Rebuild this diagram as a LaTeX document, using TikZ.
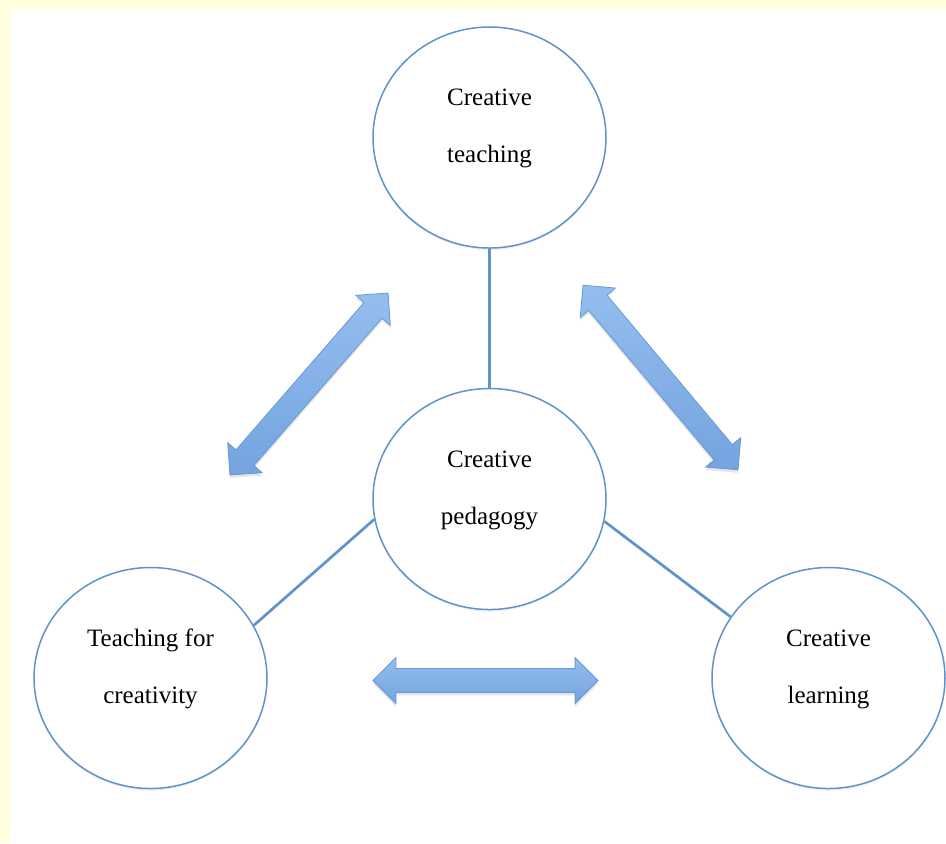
\documentclass[tikz,border=0pt]{standalone}
\usepackage{fontspec}
\setmainfont{Liberation Serif}
\usetikzlibrary{positioning,shapes.geometric,shapes.arrows,shadows}
\definecolor{pageyellow}{RGB}{255,255,222}
\definecolor{ringblue}{RGB}{96,146,204}
\definecolor{arrowtop}{RGB}{148,190,238}
\definecolor{arrowbot}{RGB}{116,163,224}
\definecolor{arrowrim}{RGB}{104,153,214}
\tikzset{%
	circ/.style   = {draw=ringblue, fill=white, line width=0.75pt, ellipse, minimum width=116.5pt, minimum height=110.5pt, inner sep=0pt, align=center, text=black, font=\fontsize{12.5}{28.5}\selectfont, execute at end node={\rule[-11.7pt]{0pt}{11.7pt}}, drop shadow={shadow xshift=0pt, shadow yshift=-1pt, opacity=0.12}}, % topic circle
	link/.style   = {draw=ringblue, line width=1.35pt}, % plain connector
	twoway/.style = {double arrow, draw=arrowrim, line width=0.4pt, top color=arrowtop, bottom color=arrowbot, minimum width=22.5pt, inner xsep=0pt, inner ysep=5.75pt, double arrow head extend=5.5pt, drop shadow={shadow xshift=0pt, shadow yshift=-1.5pt, opacity=0.2}}, % block arrow
}

\begin{document}
\begin{tikzpicture}[x=0.5pt, y=-0.5pt, node distance=69.5pt]
	% page
	\fill[pageyellow] (0,0) rectangle (946,843);
	\fill[white] (10,9) rectangle (946,843);
	\useasboundingbox (0,0) rectangle (946,843);
	% circles
	\node[circ] (ped) at (489.5,499) {Creative\\pedagogy};
	\node[circ, above=of ped] (teach) {Creative\\teaching};
	\node[circ, below left=89.5pt and 169.5pt of ped.center, anchor=center] (tfc) {Teaching for\\creativity};
	\node[circ, below right=89.5pt and 169.5pt of ped.center, anchor=center] (learn) {Creative\\learning};
	\draw[link] (teach) -- (ped);
	\draw[link] (ped.190) -- (tfc.27);
	\draw[link] (ped.349) -- (learn.148);
	% block arrows
	\node[twoway, minimum height=120.5pt, rotate=49] (a1) at (309,384) {};
	\node[twoway, minimum height=120.5pt, rotate=-50] (a2) at (660.5,377.5) {};
	\node[twoway, minimum height=112.5pt] (a3) at (485.5,680.5) {};
\end{tikzpicture}
\end{document}
